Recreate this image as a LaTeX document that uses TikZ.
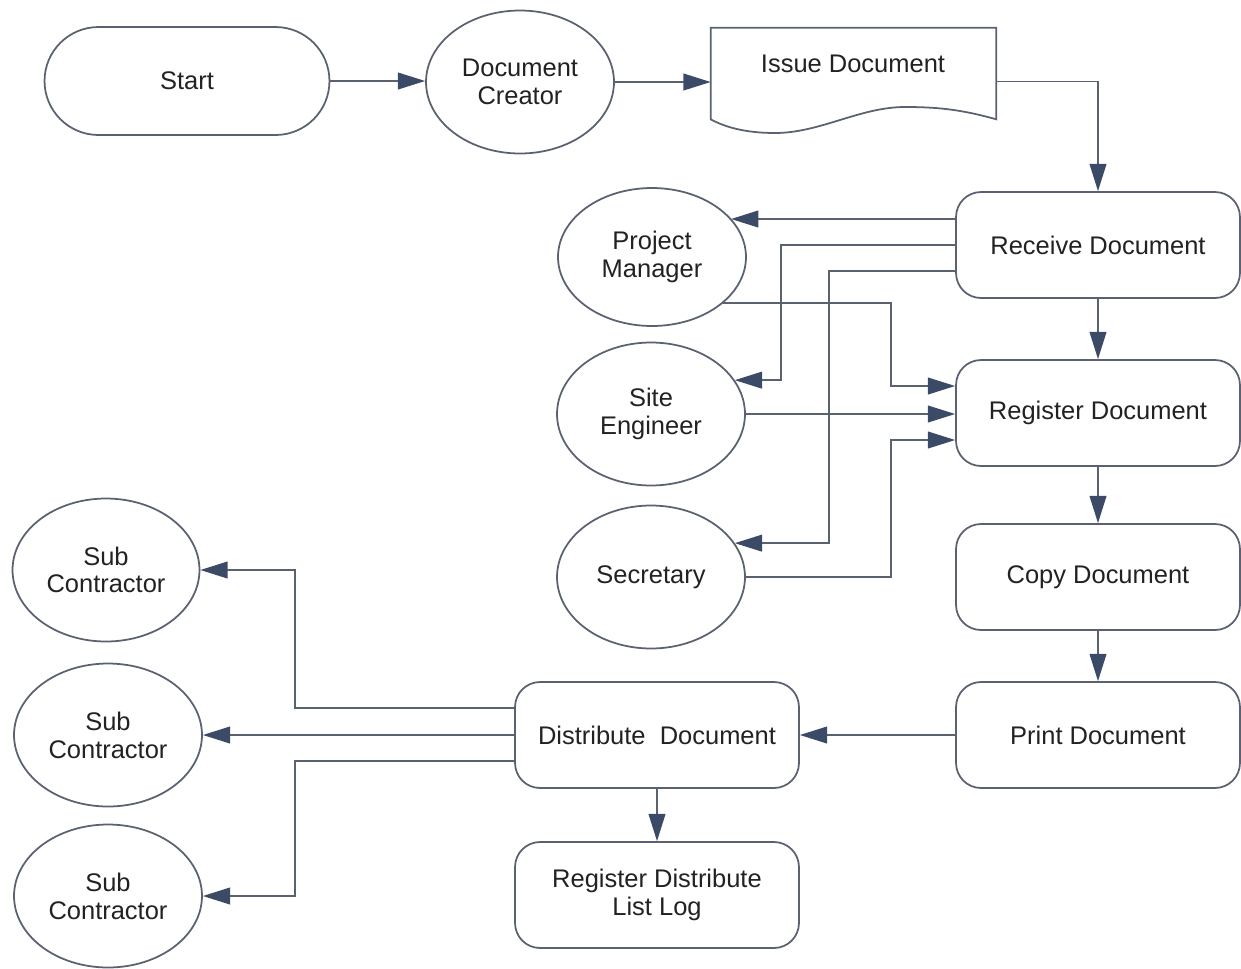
\documentclass[tikz,border=0pt]{standalone}
\usepackage{fontspec}
\setmainfont{Liberation Sans}
\usetikzlibrary{shapes.geometric,arrows.meta,calc}
\definecolor{edge}{HTML}{5A6170}
\definecolor{tipc}{HTML}{3B4A66}
\definecolor{ink}{HTML}{222222}

\begin{document}
\begin{tikzpicture}[x=0.02cm,y=-0.02cm,
  every node/.style={font=\fontsize{14.5}{15.8}\selectfont, text=ink, align=center},
  base/.style={draw=edge, line width=1pt},
  oval/.style={base, ellipse, minimum width=3.76cm, minimum height=2.86cm, inner sep=0pt},
  task/.style={base, rectangle, rounded corners=0.5cm, minimum width=5.68cm, minimum height=2.12cm},
  link/.style={draw=edge, line width=1pt, -{Triangle[length=15.5pt,width=9.5pt,color=tipc]}},
]
\useasboundingbox (0,0) rectangle (1241,968);

% main flow
\node[base, rounded corners=1.08cm, minimum width=5.7cm, minimum height=2.16cm] (start) at (187,81) {Start};
\node[oval] (creator) at (520,82) {Document\\Creator};
\node[minimum width=5.7cm, minimum height=1.82cm, inner sep=0pt] (issue) at (853.5,73.5) {};
\node (issuetext) at (853,64) {Issue Document};
\draw[base] (issue.south west) -- (issue.north west) -- (issue.north east) -- (issue.south east)
  .. controls (960,109) and (935,107) .. (905,107)
  .. controls (860,107) and (820,133) .. (775,133)
  .. controls (745,133) and (725,127) .. (issue.south west) -- cycle;

\node[task] (receive)  at (1098,245) {Receive Document};
\node[task] (register) at (1098,413) {Register Document};
\node[task] (copy)     at (1098,577) {Copy Document};
\node[task] (print)    at (1098,735) {Print Document};
\node[task] (distribute) at (657,735) {Distribute\ \ Document};
\node[task] (log)      at (657,895) {Register Distribute\\List Log};

% staff
\node[oval, minimum height=2.76cm] (pm)  at (652,257) {Project\\Manager};
\node[oval] (se)  at (651,414) {Site\\Engineer};
\node[oval] (sec) at (651,577) {Secretary};

% sub contractors
\node[oval, minimum width=3.74cm] (sc1) at (106,570) {Sub\\Contractor};
\node[oval] (sc2) at (108,735) {Sub\\Contractor};
\node[oval] (sc3) at (108,896) {Sub\\Contractor};

% routing columns
\coordinate (vA) at (781,0);
\coordinate (vB) at (829,0);
\coordinate (vC) at (891,0);
\coordinate (vD) at (295,0);

% connectors
\draw[link] (start.east) -- (start.east -| creator.west);
\draw[link] (creator.east) -- (creator.east -| issue.west);
\draw[link] ($(issue.east)+(0,8)$) -| (receive.north);

\draw[link] ($(receive.west)+(0,-26)$) coordinate (r1) -- (r1 -| pm.26);
\draw[link] (receive.west) -- (receive.west -| vA) -- (se.22 -| vA) -- (se.22);
\draw[link] ($(receive.west)+(0,26)$) coordinate (r3) -- (r3 -| vB) -- (sec.22 -| vB) -- (sec.22);

\draw[link] (pm.-33) -- (pm.-33 -| vC) -- ($(register.west -| vC)+(0,-27)$) -- ($(register.west)+(0,-27)$);
\draw[link] (se.east) -- (se.east -| register.west);
\draw[link] (sec.east) -- (sec.east -| vC) -- ($(register.west -| vC)+(0,27)$) -- ($(register.west)+(0,27)$);

\draw[link] (receive.south) -- (register.north);
\draw[link] (register.south) -- (copy.north);
\draw[link] (copy.south) -- (print.north);
\draw[link] (print.west) -- (distribute.east);
\draw[link] (distribute.south) -- (log.north);

\draw[link] ($(distribute.west)+(0,-27)$) coordinate (d1) -- (d1 -| vD) -- (sc1.east -| vD) -- (sc1.east);
\draw[link] (distribute.west) -- (sc2.east);
\draw[link] ($(distribute.west)+(0,26)$) coordinate (d3) -- (d3 -| vD) -- (sc3.east -| vD) -- (sc3.east);
\end{tikzpicture}
\end{document}
